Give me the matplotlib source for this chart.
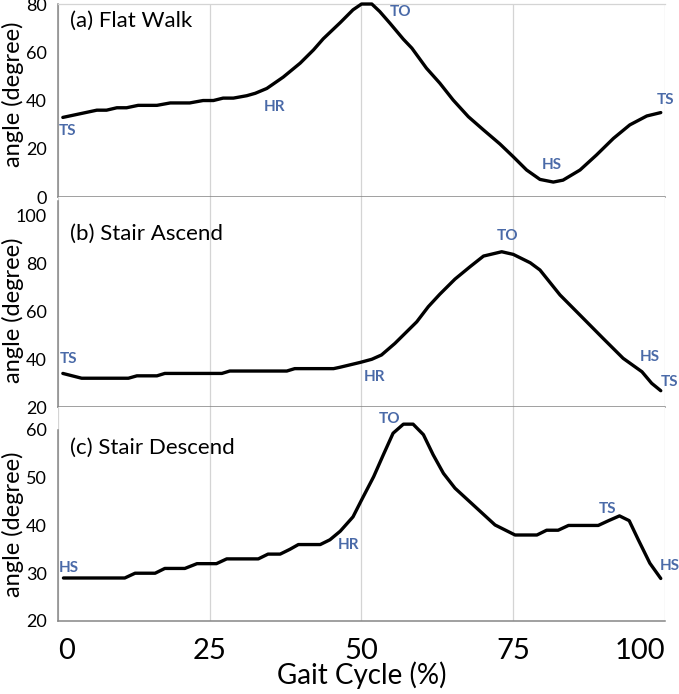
#!/usr/bin/env python3
# -*- coding: utf-8 -*-
"""
Knee angle over one gait cycle: flat walk, stair ascend, stair descend
"""

import matplotlib
matplotlib.use('Agg')
import matplotlib.pyplot as plt

plt.rcParams['font.family'] = ['Lato', 'DejaVu Sans']

# (a) flat walk
flat_x = [0.8, 6.4, 8.0, 9.7, 11.3, 13.2, 16.3, 18.5, 21.7, 23.9, 25.6, 27.2, 28.9,
          31.1, 32.5, 34.4, 37.1, 39.9, 42.1, 43.7, 46.5, 48.6, 50.0, 51.7, 53.0,
          54.7, 56.9, 58.3, 60.7, 62.9, 65.1, 67.6, 70.1, 72.8, 75.0, 77.2, 79.4,
          81.6, 83.2, 86.0, 88.7, 91.5, 94.2, 97.0, 99.3]
flat_y = [33, 36, 36, 37, 37, 38, 38, 39, 39, 40, 40, 41, 41,
          42, 43, 45, 49.7, 55.5, 61, 65.6, 72.3, 77.6, 80, 80, 76.9,
          72, 65.4, 61.7, 53.4, 47.2, 40.2, 33.3, 27.8, 22, 16.7, 11.2, 7.3,
          6.2, 7, 11.2, 17.4, 24.3, 29.9, 33.6, 35]

# (b) stair ascend
asc_x = [0.8, 3.9, 11.6, 13.0, 16.3, 17.6, 27.0, 28.3, 37.7, 39.0, 45.4, 46.5,
         49.8, 51.7, 53.3, 55.5, 59.1, 61.0, 62.9, 65.4, 67.9, 70.1, 73.1, 75.0,
         77.8, 79.4, 82.7, 86.0, 89.8, 93.1, 96.2, 97.8, 99.3]
asc_y = [34, 32, 32, 33, 33, 34, 34, 35, 35, 36, 36, 36.6,
         38.6, 39.9, 41.7, 46.5, 55.5, 61.8, 67, 73.3, 78.5, 82.9, 84.7, 83.6,
         80.1, 77.1, 66.7, 58.3, 48.6, 40.3, 34.7, 29.9, 26.8]

# (c) stair descend
desc_x = [0.9, 11.0, 12.7, 16.0, 17.6, 20.9, 22.9, 26.1, 27.8, 33.0, 34.6, 36.6,
          38.2, 39.6, 43.2, 44.8, 46.5, 48.6, 50.0, 52.0, 53.6, 55.2, 56.9, 58.5,
          60.2, 61.8, 63.5, 65.4, 68.4, 72.0, 75.3, 78.9, 80.5, 82.4, 84.1, 89.0,
          90.7, 92.5, 94.1, 95.6, 97.5, 99.3]
desc_y = [29, 29, 30, 30, 31, 31, 32, 32, 33, 33, 34, 34,
          35, 36, 36, 37, 38.8, 41.8, 45.3, 50.2, 54.8, 59.3, 61.2, 61.2,
          59, 54.8, 50.9, 47.8, 44.3, 40.1, 38, 38, 39, 39, 40, 40,
          41, 42, 41, 37, 32.1, 28.9]

titles = ['(a) Flat Walk', '(b) Stair Ascend', '(c) Stair Descend']
events = [['TS', 'HR', 'TO', 'HS', 'TS'],
          ['TS', 'HR', 'TO', 'HS', 'TS'],
          ['HS', 'HR', 'TO', 'TS', 'HS']]
x_ticks = [0, 25, 50, 75, 100]
x_labels = ['0', '25', '50', '75', '100']
y_ticks = [[0, 20, 40, 60, 80], [20, 40, 60, 80, 100], [20, 30, 40, 50, 60]]

# layout only: event label positions (data coords) per panel
event_pos = [[(1.6, 27.4), (35.7, 37.3), (56.5, 76.8), (81.4, 13.3), (100.0, 40.2)],
             [(1.8, 40.0), (52.1, 32.5), (74.1, 91.3), (97.5, 40.8), (100.8, 30.4)],
             [(1.8, 31.1), (47.9, 35.9), (54.7, 62.3), (90.6, 43.5), (100.7, 31.5)]]
# [left, bottom, width, height] in figure fractions
rects = [[0.0854, 0.7161, 0.8940, 0.2781],
         [0.0854, 0.4135, 0.8940, 0.3026],
         [0.0854, 0.1052, 0.8940, 0.3084]]
ylims = [(0, 80), (20, 107.5), (20, 64.8)]
title_y = [0.915, 0.825, 0.81]
ylabel_y = [0.53, 0.46, 0.45]

LABEL_COLOR = '#4a6aa8'
SPINE_COLOR = '#868686'
GRID_COLOR = '#d4d4d4'

fig = plt.figure(figsize=(6.79, 6.94), dpi=100)
series = [(flat_x, flat_y), (asc_x, asc_y), (desc_x, desc_y)]

for i, (xs, ys) in enumerate(series):
    ax = fig.add_axes(rects[i])
    ax.plot(xs, ys, color='black', lw=2.4, solid_joinstyle='round',
            solid_capstyle='round', clip_on=False, zorder=3)
    ax.set_xlim(0, 100)
    ax.set_ylim(*ylims[i])
    ax.set_xticks(x_ticks)
    ax.set_yticks(y_ticks[i])
    ax.grid(axis='x', color=GRID_COLOR, lw=0.9)
    ax.set_axisbelow(True)
    for side in ['right', 'top']:
        ax.spines[side].set_visible(False)
    for side in ['left', 'bottom']:
        ax.spines[side].set_color(SPINE_COLOR)
        ax.spines[side].set_linewidth(1.1)
    if i == 0:
        ax.spines['top'].set_visible(True)
        ax.spines['top'].set_color(GRID_COLOR)
        ax.spines['top'].set_linewidth(0.9)
    else:
        ax.spines['left'].set_bounds(y_ticks[i][0], y_ticks[i][-1] + (6 if i == 1 else 0))
    ax.tick_params(axis='both', length=0)
    ax.tick_params(axis='y', labelsize=13, pad=8)
    ax.set_ylabel('angle (degree)', fontsize=17)
    ax.yaxis.set_label_coords(-0.056, ylabel_y[i])
    ax.text(0.02, title_y[i], titles[i], transform=ax.transAxes,
            fontsize=16, ha='left', va='center')
    for name, (ex, ey) in zip(events[i], event_pos[i]):
        ax.text(ex, ey, name, color=LABEL_COLOR, fontsize=11, fontweight='bold',
                ha='center', va='center')
    if i < 2:
        ax.set_xticklabels([])
    else:
        ax.set_xticklabels(x_labels, fontsize=21)
        ax.tick_params(axis='x', pad=12)
        tl = ax.get_xticklabels()
        tl[0].set_ha('left')
        tl[-1].set_ha('right')
        ax.set_xlabel('Gait Cycle (%)', fontsize=20, labelpad=-1.5)

fig.savefig('out.png', dpi=100)
plt.close(fig)
